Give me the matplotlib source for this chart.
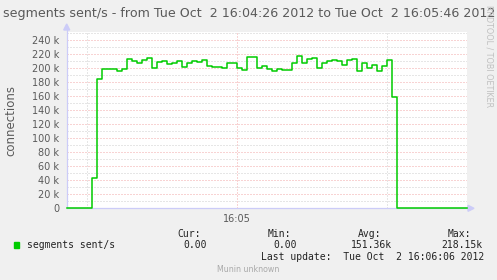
import numpy as np
import matplotlib
matplotlib.use("Agg")
from matplotlib import pyplot as plt

# segments sent/s, one value per second starting at 16:04:26 (in k)
segments_k = [0, 0, 0, 0, 0, 44, 185, 199, 199, 199,
              196.5, 199.5, 214, 210, 208, 212, 215, 201, 209, 210,
              206, 207, 211, 202, 207, 210, 209, 212.6, 204, 202.6,
              202.6, 201, 207.4, 207.4, 200, 197, 216.5, 216.5, 200, 203.5,
              198.6, 196.8, 199.6, 197, 197, 207, 218.15, 207, 214, 215,
              201, 207, 210, 212, 210, 205.5, 212, 213.6, 196, 207,
              200, 205, 196, 204, 212, 159.5, 0, 0, 0, 0,
              0, 0, 0, 0, 0, 0, 0, 0, 0, 0]
ytick_values = list(range(0, 240001, 20000))
ytick_labels = ['0'] + ['%d k' % (v // 1000) for v in ytick_values[1:]]
minor_times = [4, 64]      # 16:04:30, 16:05:30
major_times = [34]         # 16:05
major_labels = ['16:05']

title = 'segments sent/s - from Tue Oct  2 16:04:26 2012 to Tue Oct  2 16:05:46 2012'
legend_heads = ['Cur:', 'Min:', 'Avg:', 'Max:']
legend_vals = ['0.00', '0.00', '151.36k', '218.15k']
last_update = 'Last update:  Tue Oct  2 16:06:06 2012'

W, H = 497, 280
fig = plt.figure(figsize=(W / 100, H / 100), dpi=100, facecolor='#F0F0F0')


def fx(x):
    return x / W


def fy(y):
    return 1 - y / H


left, right, top, bottom = 66.7, 466.7, 32.0, 208.3
ax = fig.add_axes([fx(left), fy(bottom), (right - left) / W, (bottom - top) / H])
ax.set_facecolor('white')
ax.set_xlim(0, 80)
ax.set_ylim(0, 252000)

grey = '#5A5A5A'
# horizontal grid
for v in range(10000, 252000, 10000):
    if v % 20000 == 0:
        ax.axhline(v, color='#F2A8A8', lw=0.72, dashes=(1, 2), zorder=1)
    else:
        ax.axhline(v, color='#CFCFCF', lw=0.72, dashes=(1, 2), zorder=1)
for t in minor_times:
    ax.axvline(t, color='#CFCFCF', lw=0.72, dashes=(1, 2), zorder=1)
for t in major_times:
    ax.axvline(t, color='#F2A8A8', lw=0.72, dashes=(1, 2), zorder=1)

# axis lines with arrows (drawn below the data line)
axis_col = '#CCCCF8'
tf = fig.transFigure
ax.add_line(plt.Line2D([fx(left), fx(left)], [fy(bottom), fy(27)], color=axis_col, lw=0.9,
                       transform=tf, clip_on=False, zorder=2))
ax.add_line(plt.Line2D([fx(left), fx(470)], [fy(bottom), fy(bottom)], color=axis_col, lw=0.9,
                       transform=tf, clip_on=False, zorder=2))
ax.add_patch(plt.Polygon([[fx(left - 3), fy(30)], [fx(left + 3), fy(30)], [fx(left), fy(24)]],
                         closed=True, color=axis_col, transform=tf, clip_on=False, zorder=2))
ax.add_patch(plt.Polygon([[fx(468), fy(bottom - 3)], [fx(468), fy(bottom + 3)], [fx(474), fy(bottom)]],
                         closed=True, color=axis_col, transform=tf, clip_on=False, zorder=2))

edges = np.arange(len(segments_k) + 1)
yvals = np.array(segments_k + [segments_k[-1]]) * 1000
ax.plot(edges, yvals, drawstyle='steps-post', color='#00CC00', lw=1.1, zorder=3, clip_on=False)
ax.set_xlim(0, 80)
ax.set_ylim(0, 252000)

for s in ax.spines.values():
    s.set_visible(False)
ax.set_yticks(ytick_values)
ax.set_yticklabels(ytick_labels)
ax.set_xticks(major_times)
ax.set_xticklabels(major_labels)
ax.tick_params(length=0, labelsize=7, colors=grey)
ax.tick_params(axis='y', pad=5.5)
ax.tick_params(axis='x', pad=4)

fig.text(fx(249), fy(14), title, ha='center', va='center', fontsize=9.1, color=grey)
fig.text(fx(11), fy(120), 'connections', rotation=90, ha='center', va='center',
         fontsize=8.5, color=grey)
fig.text(fx(489), fy(56), 'RRDTOOL / TOBI OETIKER', rotation=270, ha='center', va='center',
         fontsize=5.8, color='#C0C0C0')

mono = 'DejaVu Sans Mono'
fig.add_artist(plt.Rectangle((fx(14), fy(247.5)), 5 / W, 5.5 / H, color='#00CC00'))
fig.text(fx(26.7), fy(245), 'segments sent/s', ha='left', va='center', family=mono, fontsize=7, color='#222222')
for x, s in zip([177, 268, 358, 448], legend_heads):
    fig.text(fx(x), fy(234), s, ha='left', va='center', family=mono, fontsize=7, color='#222222')
for x, s in zip([183, 273, 351, 441], legend_vals):
    fig.text(fx(x), fy(245), s, ha='left', va='center', family=mono, fontsize=7, color='#222222')
fig.text(fx(261), fy(257), last_update, ha='left', va='center', family=mono, fontsize=7, color='#222222')
fig.text(fx(248), fy(269), 'Munin unknown', ha='center', va='center', fontsize=5.7, color='#AAAAAA')

fig.savefig('out.png', dpi=100, facecolor=fig.get_facecolor())
